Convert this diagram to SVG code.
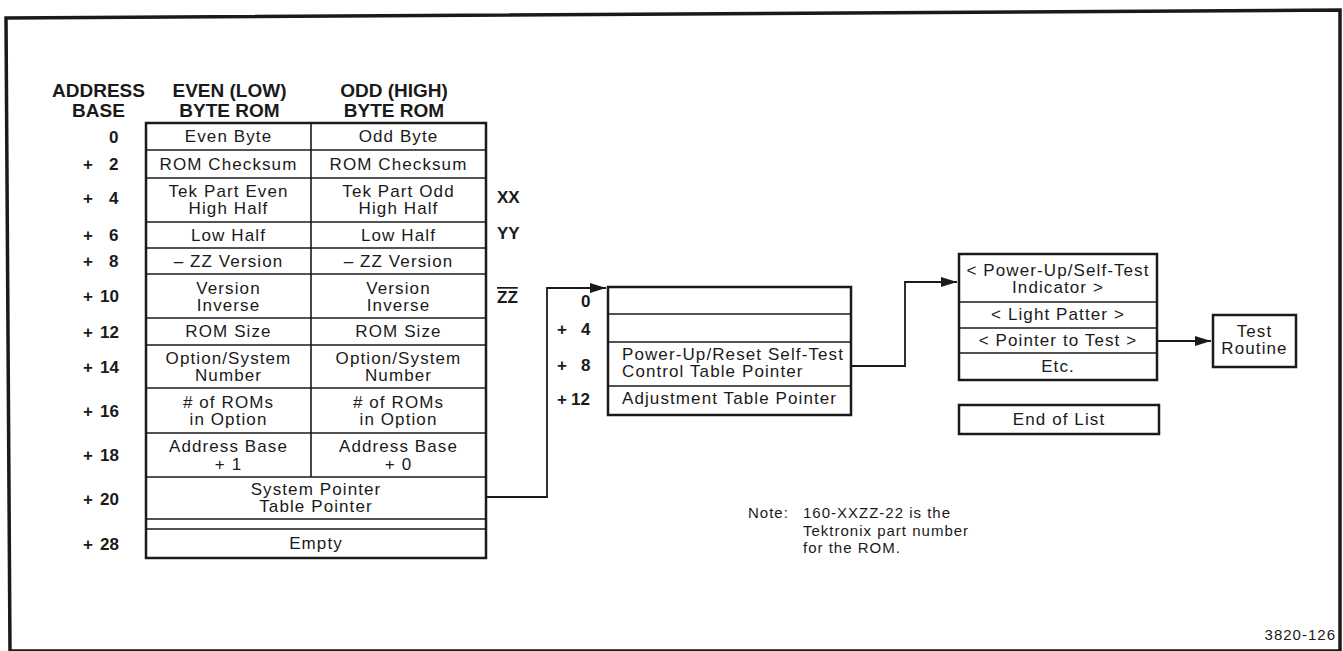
<svg xmlns="http://www.w3.org/2000/svg" width="1343" height="651" viewBox="0 0 1343 651">
<defs>
<marker id="arr" viewBox="0 0 16 10" refX="16" refY="5" markerWidth="16" markerHeight="10" markerUnits="userSpaceOnUse" orient="auto">
<path d="M0,0 L16,5 L0,10 Z" fill="#1a1a1a"/>
</marker>
<style>
.frame{fill:none;stroke:#1a1a1a;stroke-width:3.5}
.box{fill:none;stroke:#1a1a1a;stroke-width:2.5}
.ln{stroke:#1a1a1a;stroke-width:1.6}
.con{fill:none;stroke:#1a1a1a;stroke-width:1.8}
text{font-family:"Liberation Sans",Arial,sans-serif;fill:#1a1a1a}
.hd{font-size:19px;font-weight:bold;text-anchor:middle}
.c{font-size:17px;letter-spacing:1.1px;text-anchor:middle}
.l{font-size:17px;letter-spacing:1.1px}
.a{font-size:17px;font-weight:bold}
.n{font-size:15px;letter-spacing:1px}
</style>
</defs>
<rect width="1343" height="651" fill="#fff"/>
<polygon class="frame" points="6,18 1340,10 1340,651 10,651"/>

<g id="headers">
<text class="hd" x="98.5" y="97">ADDRESS</text>
<text class="hd" x="98.5" y="117">BASE</text>
<text class="hd" x="229.5" y="97">EVEN (LOW)</text>
<text class="hd" x="229.5" y="117">BYTE ROM</text>
<text class="hd" x="394" y="97">ODD (HIGH)</text>
<text class="hd" x="394" y="117">BYTE ROM</text>
</g>

<g id="rom-table">
<rect class="box" x="146" y="123" width="340" height="435"/>
<line class="ln" x1="311" y1="123" x2="311" y2="477"/>
<line class="ln" x1="146" y1="150" x2="486" y2="150"/>
<line class="ln" x1="146" y1="178" x2="486" y2="178"/>
<line class="ln" x1="146" y1="222" x2="486" y2="222"/>
<line class="ln" x1="146" y1="248" x2="486" y2="248"/>
<line class="ln" x1="146" y1="274" x2="486" y2="274"/>
<line class="ln" x1="146" y1="318" x2="486" y2="318"/>
<line class="ln" x1="146" y1="345" x2="486" y2="345"/>
<line class="ln" x1="146" y1="388" x2="486" y2="388"/>
<line class="ln" x1="146" y1="433" x2="486" y2="433"/>
<line class="ln" x1="146" y1="477" x2="486" y2="477"/>
<line class="ln" x1="146" y1="519" x2="486" y2="519"/>
<line class="ln" x1="146" y1="529" x2="486" y2="529"/>

<text class="c" x="228.5" y="142">Even Byte</text>
<text class="c" x="398.5" y="142">Odd Byte</text>
<text class="c" x="228.5" y="170">ROM Checksum</text>
<text class="c" x="398.5" y="170">ROM Checksum</text>
<text class="c" x="228.5" y="197">Tek Part Even</text>
<text class="c" x="228.5" y="214">High Half</text>
<text class="c" x="398.5" y="197">Tek Part Odd</text>
<text class="c" x="398.5" y="214">High Half</text>
<text class="c" x="228.5" y="241">Low Half</text>
<text class="c" x="398.5" y="241">Low Half</text>
<text class="c" x="228.5" y="267">– ZZ Version</text>
<text class="c" x="398.5" y="267">– ZZ Version</text>
<text class="c" x="228.5" y="294">Version</text>
<text class="c" x="228.5" y="311">Inverse</text>
<text class="c" x="398.5" y="294">Version</text>
<text class="c" x="398.5" y="311">Inverse</text>
<text class="c" x="228.5" y="337">ROM Size</text>
<text class="c" x="398.5" y="337">ROM Size</text>
<text class="c" x="228.5" y="364">Option/System</text>
<text class="c" x="228.5" y="381">Number</text>
<text class="c" x="398.5" y="364">Option/System</text>
<text class="c" x="398.5" y="381">Number</text>
<text class="c" x="228.5" y="408"># of ROMs</text>
<text class="c" x="228.5" y="425">in Option</text>
<text class="c" x="398.5" y="408"># of ROMs</text>
<text class="c" x="398.5" y="425">in Option</text>
<text class="c" x="228.5" y="452">Address Base</text>
<text class="c" x="228.5" y="470">+ 1</text>
<text class="c" x="398.5" y="452">Address Base</text>
<text class="c" x="398.5" y="470">+ 0</text>
<text class="c" x="316" y="495">System Pointer</text>
<text class="c" x="316" y="512">Table Pointer</text>
<text class="c" x="316" y="549">Empty</text>
</g>

<g id="rom-addresses">
<text class="a"><tspan x="109" y="143">0</tspan></text>
<text class="a"><tspan x="83" y="170">+</tspan><tspan x="109" y="170">2</tspan></text>
<text class="a"><tspan x="83" y="204">+</tspan><tspan x="109" y="204">4</tspan></text>
<text class="a"><tspan x="83" y="241">+</tspan><tspan x="109" y="241">6</tspan></text>
<text class="a"><tspan x="83" y="267">+</tspan><tspan x="109" y="267">8</tspan></text>
<text class="a"><tspan x="83" y="302">+</tspan><tspan x="100" y="302">10</tspan></text>
<text class="a"><tspan x="83" y="338">+</tspan><tspan x="100" y="338">12</tspan></text>
<text class="a"><tspan x="83" y="373">+</tspan><tspan x="100" y="373">14</tspan></text>
<text class="a"><tspan x="83" y="417">+</tspan><tspan x="100" y="417">16</tspan></text>
<text class="a"><tspan x="83" y="461">+</tspan><tspan x="100" y="461">18</tspan></text>
<text class="a"><tspan x="83" y="505">+</tspan><tspan x="100" y="505">20</tspan></text>
<text class="a"><tspan x="83" y="550">+</tspan><tspan x="100" y="550">28</tspan></text>
</g>

<g id="part-labels">
<text class="a" x="497" y="203">XX</text>
<text class="a" x="497" y="239">YY</text>
<text class="a" x="497" y="303" text-decoration="overline">ZZ</text>
</g>

<g id="system-pointer-table">
<rect class="box" x="608" y="287" width="243" height="128"/>
<line class="ln" x1="608" y1="314" x2="851" y2="314"/>
<line class="ln" x1="608" y1="342" x2="851" y2="342"/>
<line class="ln" x1="608" y1="386" x2="851" y2="386"/>
<text class="l" x="622" y="360">Power-Up/Reset Self-Test</text>
<text class="l" x="622" y="377">Control Table Pointer</text>
<text class="l" x="622" y="404">Adjustment Table Pointer</text>
<text class="a"><tspan x="581" y="307">0</tspan></text>
<text class="a"><tspan x="557" y="335">+</tspan><tspan x="581" y="335">4</tspan></text>
<text class="a"><tspan x="557" y="371">+</tspan><tspan x="581" y="371">8</tspan></text>
<text class="a"><tspan x="557" y="405">+</tspan><tspan x="571" y="405">12</tspan></text>
</g>

<g id="self-test-table">
<rect class="box" x="959" y="254" width="198" height="126"/>
<line class="ln" x1="959" y1="302" x2="1157" y2="302"/>
<line class="ln" x1="959" y1="328" x2="1157" y2="328"/>
<line class="ln" x1="959" y1="353" x2="1157" y2="353"/>
<text class="c" x="1058" y="276">&lt; Power-Up/Self-Test</text>
<text class="c" x="1058" y="293">Indicator &gt;</text>
<text class="c" x="1058" y="320">&lt; Light Patter &gt;</text>
<text class="c" x="1058" y="346">&lt; Pointer to Test &gt;</text>
<text class="c" x="1058" y="372">Etc.</text>
</g>

<g id="end-of-list">
<rect class="box" x="959" y="405" width="200" height="29"/>
<text class="c" x="1059" y="425">End of List</text>
</g>

<g id="test-routine">
<rect class="box" x="1213" y="315" width="83" height="52"/>
<text class="c" x="1254.5" y="337">Test</text>
<text class="c" x="1254.5" y="354">Routine</text>
</g>

<g id="connectors">
<polyline class="con" points="486,497 547,497 547,288 606,288" marker-end="url(#arr)"/>
<polyline class="con" points="851,366 905,366 905,282 957,282" marker-end="url(#arr)"/>
<line class="con" x1="1157" y1="341" x2="1211" y2="341" marker-end="url(#arr)"/>
</g>

<g id="note">
<text class="n" x="748" y="518">Note:</text>
<text class="n" x="803" y="518">160-XXZZ-22 is the</text>
<text class="n" x="803" y="536">Tektronix part number</text>
<text class="n" x="803" y="553">for the ROM.</text>
</g>

<text class="n" x="1336" y="640" text-anchor="end">3820-126</text>
</svg>
